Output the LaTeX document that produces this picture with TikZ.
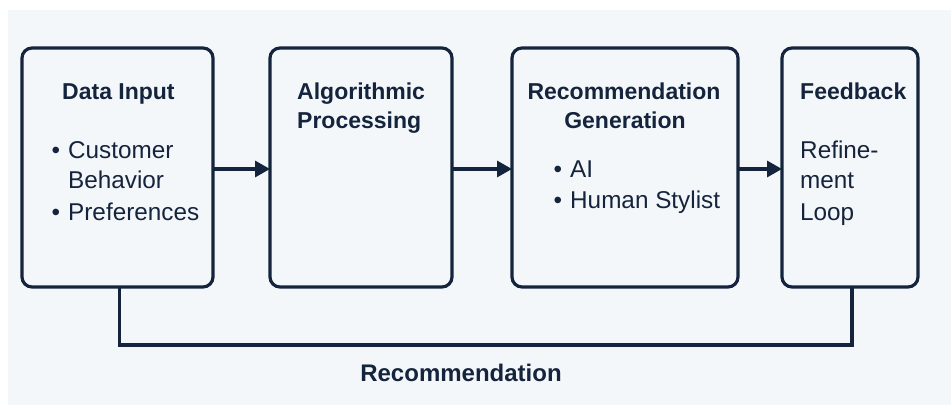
\documentclass[tikz,border=0pt]{standalone}
\usepackage{fontspec}
\setmainfont{Liberation Sans}
\usetikzlibrary{arrows.meta,calc}
\definecolor{ink}{HTML}{15243D}
\definecolor{paper}{HTML}{F4F7FA}
\newcommand{\bulletmark}{\llap{\textbullet\hspace{8pt}}}
\tikzset{
  stage/.style={draw=ink, line width=3.2pt, rounded corners=10pt, fill=paper,
    inner sep=0pt, outer sep=0pt, anchor=north west},
  title/.style={text=ink, inner sep=0pt, anchor=base west,
    font=\fontsize{23}{29}\selectfont\bfseries},
  item/.style={text=ink, inner sep=0pt, anchor=base west,
    font=\fontsize{24.3}{30}\selectfont},
  flow/.style={draw=ink, line width=3.2pt, -{Triangle[length=15pt,width=16pt]}},
  loop/.style={draw=ink, line width=3.2pt}
}
\begin{document}
\begin{tikzpicture}[x=1pt,y=-1pt]
\useasboundingbox (0,0) rectangle (951,405);
\fill[white] (0,0) rectangle (951,405);
\fill[paper] (8,10) rectangle (951,405);

% stage boxes
\node[stage, minimum width=191pt, minimum height=239pt] (b1) at (22,48) {};
\node[stage, minimum width=182pt, minimum height=239pt] (b2) at (270,48) {};
\node[stage, minimum width=226pt, minimum height=239pt] (b3) at (512,48) {};
\node[stage, minimum width=136pt, minimum height=239pt] (b4) at (782,48) {};

% Data Input
\node[title] (t1) at (62,99) {Data Input};
\node[item] (i1a) at (68,158) {\bulletmark Customer};
\node[item] (i1b) at (68,188) {Behavior};
\node[item] (i1c) at (68,220) {\bulletmark Preferences};

% Algorithmic Processing
\node[title] (t2a) at (297,99) {Algorithmic};
\node[title] (t2b) at (297,128) {Processing};

% Recommendation Generation
\node[title, anchor=base] (t3a) at (624,99) {Recommendation};
\node[title, anchor=base] (t3b) at (625,128) {Generation};
\node[item] (i3a) at (570,177) {\bulletmark AI};
\node[item] (i3b) at (570,208) {\bulletmark Human Stylist};

% Feedback
\node[title] (t4) at (800,99) {Feedback};
\node[item] (i4a) at (800,158) {Refine-};
\node[item] (i4b) at (800,188) {ment};
\node[item] (i4c) at (800,220) {Loop};

% forward flow
\draw[flow] (b1.east |- 0,169) -- (b2.west |- 0,169);
\draw[flow] (b2.east |- 0,169) -- (b3.west |- 0,169);
\draw[flow] (b3.east |- 0,169) -- (b4.west |- 0,169);

% feedback loop
\coordinate (lowL) at ($(b1.south)+(2,58)$);
\draw[loop] ([xshift=2pt]b1.south) -- (lowL) -| ([xshift=2pt]b4.south);
\node[title, anchor=base, font=\fontsize{24}{29}\selectfont\bfseries] (lbl) at (461,381) {Recommendation};
\end{tikzpicture}
\end{document}
